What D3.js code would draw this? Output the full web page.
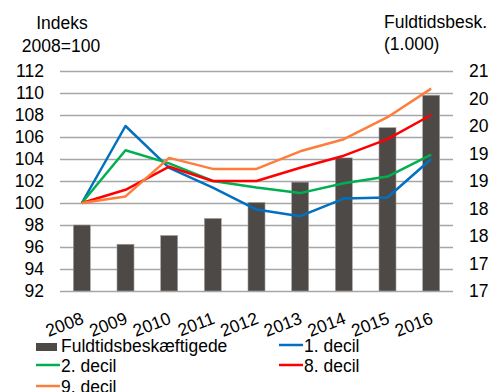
<!DOCTYPE html>
<html>
<head>
<meta charset="utf-8">
<script src="https://cdn.jsdelivr.net/npm/d3@7"></script>
<style>
  html, body { margin: 0; padding: 0; background: #fff; }
  svg { display: block; font-family: "Liberation Sans", Arial, sans-serif; }
</style>
</head>
<body>
<svg id="chart" width="489" height="392"></svg>
<script>
// Years on the x axis
const years = ["2008", "2009", "2010", "2011", "2012", "2013", "2014", "2015", "2016"];

// Full-time employed, thousands (right axis)
const fuldtid = [1820, 1785, 1801, 1832, 1861, 1898, 1942, 1997, 2056];

// Index 2008=100 by income decile (left axis)
const decil1 = [100, 107.0, 103.2, 101.4, 99.4, 98.8, 100.4, 100.5, 104.0];
const decil2 = [100, 104.8, 103.6, 102.0, 101.4, 100.9, 101.8, 102.4, 104.4];
const decil8 = [100, 101.2, 103.3, 102.0, 102.0, 103.2, 104.3, 105.8, 108.0];
const decil9 = [100, 100.6, 104.1, 103.1, 103.1, 104.7, 105.8, 107.8, 110.4];

const leftTicks = [92, 94, 96, 98, 100, 102, 104, 106, 108, 110, 112];
const rightTicks = [1700, 1750, 1800, 1850, 1900, 1950, 2000, 2050, 2100];

const lineSeries = [
  { name: "1. decil", values: decil1, color: "#0070c0" },
  { name: "2. decil", values: decil2, color: "#00b050" },
  { name: "8. decil", values: decil8, color: "#ff0000" },
  { name: "9. decil", values: decil9, color: "#ff7d3a" }
];

const FONT = 17.5;
const svg = d3.select("#chart");
const plot = { left: 60, right: 453, top: 71, bottom: 291 };

const x = d3.scaleBand().domain(years).range([plot.left, plot.right]).paddingInner(0.61).paddingOuter(0.305);
const yL = d3.scaleLinear().domain([92, 112]).range([plot.bottom, plot.top]);
const yR = d3.scaleLinear().domain([1700, 2100]).range([plot.bottom, plot.top]);
const cx = d => x(d) + x.bandwidth() / 2;

// Gridlines and left tick labels
const leftAxis = d3.axisLeft(yL).tickValues(leftTicks).tickSize(-(plot.right - plot.left)).tickPadding(16);
const gL = svg.append("g").attr("transform", `translate(${plot.left},0)`).call(leftAxis);
gL.select(".domain").remove();
gL.selectAll(".tick line").attr("stroke", "#a6a6a6").attr("stroke-width", 1.3);
gL.selectAll(".tick text").attr("font-size", FONT).attr("fill", "#000").attr("font-family", "Liberation Sans, Arial, sans-serif");

// Right tick labels (run past the right edge of the page)
const rightAxis = d3.axisRight(yR).tickValues(rightTicks).tickSize(0).tickPadding(16).tickFormat(d3.format("d"));
const gR = svg.append("g").attr("transform", `translate(${plot.right},0)`).call(rightAxis);
gR.select(".domain").remove();
gR.selectAll(".tick text").attr("font-size", FONT).attr("fill", "#000").attr("font-family", "Liberation Sans, Arial, sans-serif");

// Bars
svg.append("g").selectAll("rect").data(years).join("rect")
  .attr("x", d => x(d))
  .attr("width", x.bandwidth())
  .attr("y", (d, i) => yR(fuldtid[i]))
  .attr("height", (d, i) => plot.bottom - yR(fuldtid[i]))
  .attr("fill", "#4d4946")
  .attr("stroke", "#a8a5a2")
  .attr("stroke-width", 0.6);

// Lines
const line = d3.line().x((d, i) => cx(years[i])).y(d => yL(d));
svg.append("g").selectAll("path").data(lineSeries).join("path")
  .attr("d", d => line(d.values))
  .attr("fill", "none")
  .attr("stroke", d => d.color)
  .attr("stroke-width", 2.5)
  .attr("stroke-linejoin", "round");

// X tick labels (rotated)
const xAxis = d3.axisBottom(x).tickSize(0).tickPadding(0);
const gX = svg.append("g").attr("transform", `translate(0,${plot.bottom})`).call(xAxis);
gX.select(".domain").remove();
gX.selectAll(".tick text")
  .attr("font-size", FONT).attr("fill", "#000").attr("font-family", "Liberation Sans, Arial, sans-serif")
  .attr("text-anchor", "end")
  .attr("dy", null)
  .attr("transform", "translate(3,32) rotate(-21)");

// Axis titles
const titles = svg.append("g").attr("font-size", FONT).attr("fill", "#000");
titles.append("text").attr("x", 62).attr("y", 29).attr("text-anchor", "middle").text("Indeks");
titles.append("text").attr("x", 61).attr("y", 52).attr("text-anchor", "middle").text("2008=100");
titles.append("text").attr("x", 384).attr("y", 28).text("Fuldtidsbesk.");
titles.append("text").attr("x", 384).attr("y", 50).text("(1.000)");

// Legend
const legend = svg.append("g").attr("font-size", FONT).attr("fill", "#000");
legend.append("rect").attr("x", 36).attr("y", 343).attr("width", 21).attr("height", 8).attr("fill", "#4d4946");
legend.append("text").attr("x", 61).attr("y", 352).text("Fuldtidsbeskæftigede");
const legendPos = [
  { s: lineSeries[0], x: 279, y: 345, ty: 352 },
  { s: lineSeries[1], x: 36, y: 365, ty: 372 },
  { s: lineSeries[2], x: 279, y: 365, ty: 372 },
  { s: lineSeries[3], x: 36, y: 386, ty: 393 }
];
legendPos.forEach(p => {
  legend.append("line").attr("x1", p.x).attr("x2", p.x + 24).attr("y1", p.y).attr("y2", p.y)
    .attr("stroke", p.s.color).attr("stroke-width", 2.5);
  legend.append("text").attr("x", p.x + 25).attr("y", p.ty).text(p.s.name);
});
</script>
</body>
</html>
